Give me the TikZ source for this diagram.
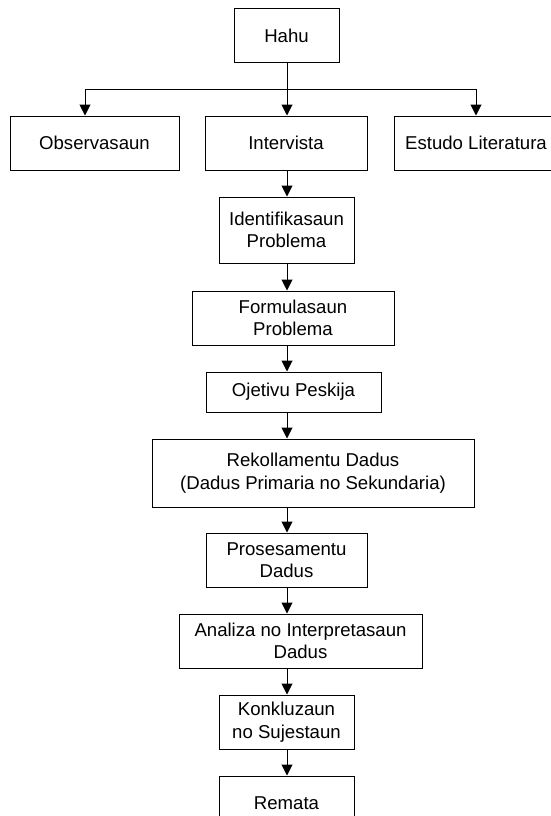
\documentclass[tikz,border=0pt]{standalone}
\usepackage{fontspec}
\setmainfont{Liberation Sans}
\usetikzlibrary{arrows.meta}
\begin{document}
\begin{tikzpicture}[x=1pt,y=-1pt,
  box/.style={draw=black, line width=1pt, rectangle, inner sep=0pt, align=center,
    font=\fontsize{18.6}{22.5}\selectfont},
  arr/.style={draw=black, line width=1pt, -{Triangle[length=11pt,width=11pt]}}]
\clip (0,0) rectangle (551,816);
\useasboundingbox (0,0) rectangle (551,816);
\fill[white] (0,0) rectangle (551,816);
\coordinate (spine) at (287,0);
\coordinate (obsx) at (85,0);
\coordinate (br) at (287,89.5);
\node[box, minimum width=105pt, minimum height=54pt] (hahu) at (286.5,36) {Hahu};
\node[box, minimum width=169pt, minimum height=54pt] (obs) at (94.5,143) {Observasaun};
\node[box, minimum width=162pt, minimum height=54pt] (inter) at (286,143) {Intervista};
\node[box, minimum width=164pt, minimum height=54pt] (estudo) at (476,143) {Estudo Literatura};
\node[box, minimum width=135pt, minimum height=66pt] (ident) at (286.5,230) {Identifikasaun\\Problema};
\node[box, minimum width=202pt, minimum height=54pt] (formul) at (293,318) {Formulasaun\\Problema};
\node[box, minimum width=175pt, minimum height=40pt] (ojet) at (293.5,392) {Ojetivu Peskija};
\node[box, minimum width=322pt, minimum height=68pt] (rekol) at (313,473) {Rekollamentu Dadus\\(Dadus Primaria no Sekundaria)};
\node[box, minimum width=161pt, minimum height=54pt] (proses) at (286.5,560) {Prosesamentu\\Dadus};
\node[box, minimum width=243pt, minimum height=54pt] (analiza) at (300.5,641) {Analiza no Interpretasaun\\Dadus};
\node[box, minimum width=135pt, minimum height=54pt] (konk) at (286.5,722) {Konkluzaun\\no Sujestaun};
\node[box, minimum width=135pt, minimum height=54pt] (remata) at (286.5,803) {Remata};
\draw[arr] (hahu.south -| spine) -- (inter.north -| spine);
\draw[arr] (br) -| (obs.north -| obsx);
\draw[arr] (br) -| (estudo.north);
\draw[arr] (inter.south -| spine) -- (ident.north -| spine);
\draw[arr] (ident.south -| spine) -- (formul.north -| spine);
\draw[arr] (formul.south -| spine) -- (ojet.north -| spine);
\draw[arr] (ojet.south -| spine) -- (rekol.north -| spine);
\draw[arr] (rekol.south -| spine) -- (proses.north -| spine);
\draw[arr] (proses.south -| spine) -- (analiza.north -| spine);
\draw[arr] (analiza.south -| spine) -- (konk.north -| spine);
\draw[arr] (konk.south -| spine) -- (remata.north -| spine);
\end{tikzpicture}
\end{document}
